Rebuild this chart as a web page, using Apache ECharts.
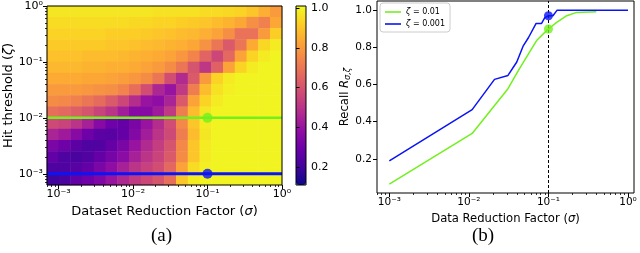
<!DOCTYPE html>
<html><head><meta charset="utf-8">
<script src="https://cdn.jsdelivr.net/npm/echarts@6/dist/echarts.min.js"></script>
<style>html,body{margin:0;padding:0;background:#fff}#c{width:640px;height:253px}</style>
</head><body><div id="c"></div>
<script>
// ---------- Panel (a): heatmap ----------
// log10 centres of the sigma bins (columns) and zeta bins (rows, bottom -> top)
const sigmaBins = [-3.08,-2.92,-2.76,-2.61,-2.45,-2.29,-2.13,-1.97,-1.82,-1.66,-1.50,-1.34,-1.19,-1.03,-0.87,-0.71,-0.55,-0.40,-0.24,-0.08];
const zetaBins = [-3.11,-2.91,-2.71,-2.51,-2.31,-2.11,-1.91,-1.71,-1.50,-1.30,-1.10,-0.90,-0.70,-0.50,-0.30,-0.10];
// heat values, rows listed from top (zeta ~1) to bottom (zeta ~1e-3)
const heatRows = [
 [0.97,0.97,0.97,0.97,0.97,0.97,0.97,0.97,0.97,0.96,0.96,0.96,0.96,0.95,0.95,0.94,0.93,0.90,0.85,0.80],
 [0.95,0.95,0.95,0.95,0.95,0.95,0.95,0.94,0.94,0.93,0.93,0.92,0.91,0.90,0.88,0.86,0.83,0.77,0.73,0.83],
 [0.93,0.93,0.93,0.93,0.93,0.92,0.92,0.92,0.91,0.90,0.89,0.88,0.87,0.85,0.82,0.77,0.69,0.69,0.80,0.92],
 [0.91,0.91,0.91,0.91,0.91,0.90,0.90,0.89,0.88,0.87,0.86,0.85,0.83,0.78,0.70,0.62,0.70,0.84,0.94,0.98],
 [0.89,0.89,0.89,0.88,0.88,0.88,0.87,0.86,0.85,0.84,0.82,0.79,0.74,0.65,0.56,0.66,0.82,0.93,0.98,1.00],
 [0.87,0.87,0.87,0.86,0.86,0.85,0.85,0.84,0.82,0.80,0.76,0.70,0.60,0.51,0.64,0.82,0.93,0.98,1.00,1.00],
 [0.84,0.84,0.84,0.83,0.83,0.82,0.81,0.79,0.76,0.70,0.58,0.47,0.62,0.80,0.93,0.98,1.00,1.00,1.00,1.00],
 [0.80,0.80,0.80,0.79,0.78,0.77,0.74,0.68,0.58,0.46,0.40,0.52,0.72,0.88,0.96,0.99,1.00,1.00,1.00,1.00],
 [0.76,0.75,0.73,0.70,0.67,0.62,0.56,0.48,0.40,0.38,0.45,0.62,0.82,0.93,0.98,1.00,1.00,1.00,1.00,1.00],
 [0.68,0.66,0.63,0.60,0.55,0.50,0.43,0.36,0.36,0.42,0.52,0.72,0.88,0.97,1.00,1.00,1.00,1.00,1.00,1.00],
 [0.57,0.55,0.50,0.44,0.36,0.30,0.28,0.33,0.40,0.48,0.58,0.75,0.90,0.98,1.00,1.00,1.00,1.00,1.00,1.00],
 [0.45,0.42,0.36,0.30,0.26,0.25,0.28,0.35,0.43,0.50,0.57,0.72,0.88,0.97,1.00,1.00,1.00,1.00,1.00,1.00],
 [0.33,0.30,0.26,0.23,0.24,0.28,0.33,0.40,0.47,0.53,0.60,0.75,0.90,0.98,1.00,1.00,1.00,1.00,1.00,1.00],
 [0.27,0.23,0.22,0.24,0.28,0.32,0.37,0.44,0.50,0.55,0.62,0.76,0.90,0.98,1.00,1.00,1.00,1.00,1.00,1.00],
 [0.23,0.23,0.25,0.28,0.33,0.38,0.44,0.50,0.54,0.58,0.66,0.82,0.95,0.99,1.00,1.00,1.00,1.00,1.00,1.00],
 [0.20,0.22,0.27,0.30,0.34,0.40,0.46,0.52,0.56,0.60,0.68,0.90,0.98,1.00,1.00,1.00,1.00,1.00,1.00,1.00]
];
const zetaLines = [0.01, 0.001];
const heatMarkerSigma = [0.1, 0.1];

// ---------- Panel (b): recall curves ----------
const greenSigma  = [0.001, 0.011, 0.031, 0.042, 0.053, 0.071, 0.09, 0.1, 0.127, 0.17, 0.226, 0.4];
const greenRecall = [0.065, 0.337, 0.577, 0.675, 0.746, 0.835, 0.879, 0.897, 0.932, 0.968, 0.986, 0.99];
const blueSigma   = [0.001, 0.011, 0.021, 0.031, 0.04, 0.048, 0.056, 0.07, 0.082, 0.09, 0.1, 0.114, 0.128, 1.0];
const blueRecall  = [0.19, 0.465, 0.627, 0.648, 0.72, 0.805, 0.85, 0.927, 0.927, 0.958, 0.968, 0.968, 0.997, 0.997];
const markerSigma = 0.1;
const greenMarker = 0.897;
const blueMarker = 0.968;

// ---------- ticks ----------
const majorTicks = [0.001, 0.01, 0.1, 1];
const majorTickText = ['10⁻³', '10⁻²', '10⁻¹', '10⁰'];
const minorMults = [2,3,4,5,6,7,8,9];
const minorDecades = [0.0001, 0.001, 0.01, 0.1, 1];
const colorbarTicks = [0.2, 0.4, 0.6, 0.8, 1.0];
const recallTicks = [0.2, 0.4, 0.6, 0.8, 1.0];

const GREEN = '#72f01e', BLUE = '#0a14f5';
const FONT = "'DejaVu Sans'";
const plasma = ['#0d0887','#41049d','#6a00a8','#8f0da4','#b12a90','#cc4778','#e16462','#f2844b','#fca636','#fcce25','#f0f921'];

const minorTicks = [];
minorDecades.forEach(d => minorMults.forEach(m => minorTicks.push(+(m * d).toPrecision(3))));
const labelFor = v => { const i = majorTicks.findIndex(t => Math.abs(t - v) / t < 1e-6); return i >= 0 ? majorTickText[i] : ''; };

const heatData = [];
heatRows.forEach((row, r) => row.forEach((v, i) => heatData.push([i, heatRows.length - 1 - r, v])));

function logAxis(gi, pos, min, max, extra) {
  return Object.assign({
    type: 'log', gridIndex: gi, position: pos, min: min, max: max, z: 10,
    axisLine: { show: false, onZero: false },
    splitLine: { show: false }, minorTick: { show: false }
  }, extra);
}
function majorLog(gi, pos, min, max, fs, margin, extra) {
  return logAxis(gi, pos, min, max, Object.assign({
    axisTick: { show: true, customValues: majorTicks, length: 4, lineStyle: { color: '#000', width: 1 } },
    axisLabel: { show: true, customValues: majorTicks, formatter: labelFor, color: '#000', fontFamily: FONT, fontSize: fs, margin: margin }
  }, extra));
}
function minorLog(gi, pos, min, max) {
  return logAxis(gi, pos, min, max, {
    axisTick: { show: true, customValues: minorTicks, length: 2, lineStyle: { color: '#000', width: 0.8 } },
    axisLabel: { show: false }
  });
}
function nameStyle(fs) {
  return { fontFamily: FONT, fontSize: fs, color: '#000', rich: {
    n: { fontFamily: FONT, fontSize: fs, color: '#000' },
    i: { fontFamily: FONT, fontSize: fs, fontStyle: 'italic', color: '#000' },
    s: { fontFamily: FONT, fontSize: fs * 0.7, fontStyle: 'italic', color: '#000', verticalAlign: 'bottom', padding: [4, 0, 0, 0] } } };
}

const AX_MIN = 7.0e-4, AY_MIN = 6.3e-4, BX_MIN = 7.0e-4, BX_MAX = 1.19;

const option = {
  animation: false,
  backgroundColor: '#fff',
  title: [
    { text: '(a)', left: 151, top: 227, padding: 0, textStyle: { fontFamily: "'Liberation Serif'", fontSize: 19, fontWeight: 'normal', color: '#000' } },
    { text: '(b)', left: 472, top: 227, padding: 0, textStyle: { fontFamily: "'Liberation Serif'", fontSize: 19, fontWeight: 'normal', color: '#000' } }
  ],
  grid: [
    { left: 47, top: 6, width: 235, height: 179, show: false },
    { left: 47, top: 6, width: 235, height: 179, show: true, backgroundColor: 'transparent', borderColor: '#000', borderWidth: 1, z: 20 },
    { left: 377, top: 1, width: 257, height: 192, show: true, backgroundColor: 'transparent', borderColor: '#000', borderWidth: 1, z: 20 },
    { left: 296, top: 6, width: 10, height: 179, show: true, backgroundColor: 'transparent', borderColor: '#000', borderWidth: 1, z: 20 }
  ],
  visualMap: {
    type: 'continuous', seriesIndex: 0, min: 0.11, max: 1.01, calculable: false, hoverLink: false,
    left: 296, top: 6, itemWidth: 10, itemHeight: 179, padding: 0, text: null, show: true,
    inRange: { color: plasma }
  },
  legend: {
    data: [{ name: 'ζ = 0.01', icon: 'rect' }, { name: 'ζ = 0.001', icon: 'rect' }],
    orient: 'vertical', left: 380, top: 3, padding: [4, 5, 3, 5],
    itemWidth: 16, itemHeight: 1.6, itemGap: 2, backgroundColor: 'rgba(255,255,255,0.8)',
    borderColor: '#ccc', borderWidth: 1, borderRadius: 3,
    formatter: n => '{i|ζ}' + n.slice(1),
    textStyle: { fontFamily: FONT, fontSize: 8, color: '#000', lineHeight: 10, rich: { i: { fontStyle: 'italic', fontFamily: FONT, fontSize: 8 } } }
  },
  xAxis: [
    { type: 'category', gridIndex: 0, data: sigmaBins, show: false },
    majorLog(1, 'bottom', AX_MIN, 1, 11, 4, {
      name: '{n|Dataset Reduction Factor (}{i|σ}{n|)}', nameLocation: 'middle', nameGap: 17, nameTextStyle: nameStyle(13)
    }),
    minorLog(1, 'bottom', AX_MIN, 1),
    majorLog(2, 'bottom', BX_MIN, BX_MAX, 10.5, 4, {
      name: '{n|Data Reduction Factor (}{i|σ}{n|)}', nameLocation: 'middle', nameGap: 18, nameTextStyle: nameStyle(11.6)
    }),
    minorLog(2, 'bottom', BX_MIN, BX_MAX),
    { type: 'value', gridIndex: 3, min: 0, max: 1, show: false }
  ],
  yAxis: [
    { type: 'category', gridIndex: 0, data: zetaBins, show: false },
    majorLog(1, 'left', AY_MIN, 1, 11, 4, {
      name: '{n|Hit threshold (}{i|ζ}{n|)}', nameLocation: 'middle', nameGap: 31, nameTextStyle: nameStyle(13)
    }),
    minorLog(1, 'left', AY_MIN, 1),
    { type: 'value', gridIndex: 2, min: 0.018, max: 1.047, position: 'left', z: 10,
      axisLine: { show: false }, splitLine: { show: false },
      axisTick: { show: true, customValues: recallTicks, length: 4, lineStyle: { color: '#000' } },
      axisLabel: { show: true, customValues: recallTicks, formatter: v => v.toFixed(1), color: '#000', fontFamily: FONT, fontSize: 10.5, margin: 5 },
      name: '{n|Recall }{i|R}{s|σ,ζ}', nameLocation: 'middle', nameGap: 25, nameTextStyle: nameStyle(11.6)
    },
    { type: 'value', gridIndex: 3, min: 0.11, max: 1.01, position: 'right', z: 10,
      axisLine: { show: false }, splitLine: { show: false },
      axisTick: { show: true, customValues: colorbarTicks, length: 3.5, lineStyle: { color: '#000' } },
      axisLabel: { show: true, customValues: colorbarTicks, formatter: v => v.toFixed(1), color: '#000', fontFamily: FONT, fontSize: 11, margin: 5 }
    }
  ],
  series: [
    { type: 'heatmap', xAxisIndex: 0, yAxisIndex: 0, data: heatData, z: 1, emphasis: { disabled: true }, progressive: 0 },
    { type: 'line', xAxisIndex: 1, yAxisIndex: 1, z: 4, symbol: 'none', silent: true,
      lineStyle: { color: GREEN, width: 2.5 }, data: [[AX_MIN, zetaLines[0]], [1, zetaLines[0]]] },
    { type: 'line', xAxisIndex: 1, yAxisIndex: 1, z: 4, symbol: 'none', silent: true,
      lineStyle: { color: BLUE, width: 3 }, data: [[AX_MIN, zetaLines[1]], [1, zetaLines[1]]] },
    { type: 'scatter', xAxisIndex: 1, yAxisIndex: 1, z: 5, symbolSize: 10, silent: true,
      data: [
        { value: [heatMarkerSigma[0], zetaLines[0]], itemStyle: { color: GREEN } },
        { value: [heatMarkerSigma[1], zetaLines[1]], itemStyle: { color: BLUE } }
      ] },
    { name: 'ζ = 0.01', type: 'line', xAxisIndex: 3, yAxisIndex: 3, symbol: 'none', z: 3,
      lineStyle: { color: GREEN, width: 1.5 }, itemStyle: { color: GREEN },
      data: greenSigma.map((s, i) => [s, greenRecall[i]]) },
    { name: 'ζ = 0.001', type: 'line', xAxisIndex: 3, yAxisIndex: 3, symbol: 'none', z: 3,
      lineStyle: { color: BLUE, width: 1.5 }, itemStyle: { color: BLUE },
      data: blueSigma.map((s, i) => [s, blueRecall[i]]),
      markLine: { silent: true, symbol: ['none', 'none'], label: { show: false }, animation: false,
        lineStyle: { color: '#000', width: 1, type: [3, 2] }, data: [{ xAxis: markerSigma }] } },
    { type: 'scatter', xAxisIndex: 3, yAxisIndex: 3, z: 6, symbolSize: 9, silent: true,
      data: [
        { value: [markerSigma, blueMarker], itemStyle: { color: BLUE } },
        { value: [markerSigma, greenMarker], itemStyle: { color: GREEN } }
      ] }
  ]
};
const chart = echarts.init(document.getElementById('c'), null, { renderer: 'canvas' });
chart.setOption(option);
</script>
</body></html>
